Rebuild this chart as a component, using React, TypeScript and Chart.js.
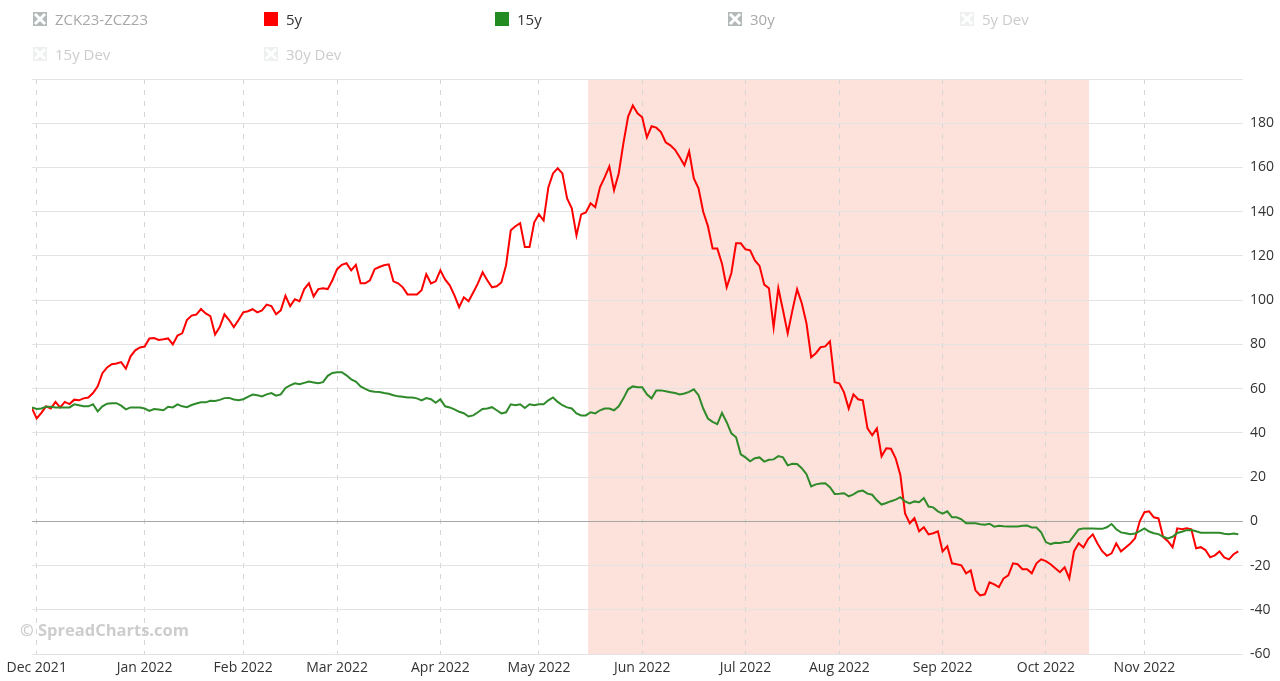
import React, { useEffect, useRef } from "react";
import { Chart, registerables } from "chart.js";

Chart.register(...registerables);

// ---- Data (trading-day series) ----
const red5y = [
  51, 46.5, 49, 52, 51, 54, 51.5, 54, 53,
  55, 54.7, 55.6, 56, 58, 61, 67, 69.6, 71, 71.4,
  72, 69, 74.6, 77.3, 78.6, 79, 82.7, 82.9, 82, 82.3,
  82.7, 80, 84, 85, 91, 93, 93.5, 96, 94, 92.8,
  84.5, 87.8, 93.6, 91, 87.8, 91, 94.5, 95, 95.9, 94.5,
  95.4, 98, 97.3, 93.6, 95.4, 102, 97.3, 100.4, 99.5, 105,
  107.6, 101.7, 105, 105.4, 105, 109, 114, 116, 116.7, 113.5,
  116, 107.6, 107.6, 109, 114, 115, 115.8, 116.2, 108.5, 107.6,
  105.8, 102.6, 102.6, 102.6, 104.5, 111.7, 107.6, 108.5, 113.5, 109.4,
  106.7, 102.2, 96.8, 101.3, 99.5, 103.5, 107.6, 112.6, 109,
  105.8, 106.3, 108, 115.8, 131.6, 133.4, 134.8, 124, 124, 135.2,
  138.8, 136, 151, 157.3, 159.6, 157.3, 146, 141.5, 129.3, 138.8,
  139.7, 143.8, 142, 151, 155.5, 160.5, 149.7, 157.3, 171, 183,
  188, 184.5, 182.7, 173.6, 178.6, 178, 176, 171.4, 170, 168,
  164.6, 161, 167.3, 155, 150.6, 140, 133.5, 123.4, 123.4, 116.5,
  105.8, 112.3, 125.7, 125.7, 123, 122.5, 118, 115.5, 107, 105.4,
  87.7, 105.4, 95.4, 85, 95.4, 104.9, 98.6, 89.5, 74.2, 76,
  78.7, 79.1, 81.4, 62.9, 62.4, 58.3, 51, 57.4, 55.2, 54.7,
  42, 38.9, 42, 29.4, 33, 32.8, 28.5, 21, 3.6, -0.9,
  1.4, -4.5, -2.7, -5.9, -5.4, -4.5, -13.6, -11.3, -19, -19.4,
  -19.9, -23.5, -22.2, -31.2, -33.5, -33, -27.6, -28.5, -29.8, -25.8,
  -24.4, -19, -19.4, -21.7, -21.7, -23.5, -19, -17.2, -18, -19.4,
  -21.2, -23, -20.8, -25.8, -13.5, -9.9, -11.8, -8, -5.9, -10,
  -13.5, -15.6, -14.5, -10, -13.6, -11.8, -10, -7.7, 0, 4.1,
  4.5, 1.8, 1.3, -7.2, -9, -11.7, -3.2, -3.6, -3.2, -3.6,
  -12.2, -11.7, -13, -16.3, -15.4, -13.6, -16.3, -17.2, -14.9, -13.6,
];

const green15y = [
  51.5, 50.8, 51, 51.8, 51.8, 51.5, 51.5, 51.5, 51.5,
  52.9, 52.5, 52, 52, 52.9, 49.7, 52, 53.2, 53.4, 53.4,
  52.3, 50.6, 51.5, 51.5, 51.5, 51, 49.9, 50.8, 50.6, 50.2,
  51.8, 51.5, 52.9, 52, 51.6, 52.6, 53.3, 53.8, 53.8, 54.5,
  54.4, 54.9, 55.7, 55.8, 55.1, 54.7, 55.2, 56.3, 57.3, 57,
  56.5, 57.4, 58, 56.8, 57.4, 60.3, 61.5, 62.4, 62, 62.6,
  63.2, 62.8, 62.4, 62.9, 65.8, 67.1, 67.4, 67.4, 66, 64.2,
  63.2, 61, 59.9, 58.9, 58.6, 58.5, 58, 57.7, 57, 56.5,
  56.3, 56, 56, 55.6, 54.7, 55.7, 55.2, 53.6, 55.2, 52,
  51.5, 50.6, 49.5, 48.9, 47.4, 47.9, 49.3, 50.8, 51,
  51.6, 50.2, 48.8, 49.3, 52.9, 52.5, 52.9, 51.2, 52.9, 52.5,
  52.9, 52.9, 54.7, 56, 54, 52.5, 51.5, 51, 48.8, 47.9,
  47.9, 49.3, 48.8, 50.2, 51, 51, 50.2, 52, 55.6, 59.7,
  61, 60.6, 60.6, 57.4, 55.6, 59.2, 59.2, 58.8, 58.4, 58,
  57.4, 57.8, 58.5, 59.7, 57, 51, 46.5, 45, 43.9, 49,
  44.8, 39.8, 38, 30.3, 28.9, 27.1, 28.5, 28.9, 27, 27.8,
  28, 29.5, 28.9, 25.3, 26, 25.9, 24, 21.3, 15.8, 16.7,
  17.1, 17.2, 15.4, 12.4, 12.5, 12.7, 11.3, 12.2, 13.5, 13.9,
  12.5, 12, 9.5, 7.6, 8.3, 9.1, 9.8, 10.9, 9, 8.1,
  9, 8.6, 10.5, 6.7, 6.3, 4.5, 3.5, 4.5, 1.8, 1.8,
  0.9, -0.9, -0.9, -0.9, -1.3, -1.6, -1.1, -2.4, -2, -2.2,
  -2.3, -2.3, -2.3, -2, -1.9, -2.8, -2.8, -5, -9.4, -10.3,
  -9.7, -9.8, -9.4, -9.3, -6.5, -3.7, -3.2, -3.2, -3.3, -3.4,
  -3.4, -2.7, -1.2, -3.6, -5, -5.4, -5.8, -5.5, -4.4, -3.2,
  -4.6, -5.4, -5.8, -7, -7.7, -7, -5.3, -4.7, -4, -3.9,
  -4.5, -5.2, -5.2, -5.2, -5.2, -5.2, -5.6, -5.8, -5.5, -5.9,
];

const monthTickIdx = [1, 24, 45, 65, 87, 108, 130, 152, 172, 194, 216, 237];
const monthLabels = [
  "Dec 2021", "Jan 2022", "Feb 2022", "Mar 2022", "Apr 2022", "May 2022",
  "Jun 2022", "Jul 2022", "Aug 2022", "Sep 2022", "Oct 2022", "Nov 2022",
];

const shadeFrom = 118.5;
const shadeTo = 225.2;

const yMin = -60;
const yMax = 200;
const yStep = 20;

const legendLabels = ["ZCK23-ZCZ23", "5y", "15y", "30y", "5y Dev", "15y Dev", "30y Dev"];
const legendStates = ["hidden", "red", "green", "hidden", "off", "off", "off"];

const RED = "#ff0000";
const GREEN = "#228b22";
const LINE_GREEN = "#2f8a2a";
const FONT = "'Open Sans', 'DejaVu Sans', sans-serif";

const shadePlugin = {
  id: "shadeBand",
  beforeDraw(chart: any) {
    const { ctx, chartArea, scales } = chart;
    const x1 = scales.x.getPixelForValue(shadeFrom);
    const x2 = scales.x.getPixelForValue(shadeTo);
    ctx.save();
    ctx.fillStyle = "#fde1db";
    ctx.fillRect(x1, chartArea.top, x2 - x1, chartArea.bottom - chartArea.top);
    ctx.restore();
  },
};

function LegendIcon({ state }: { state: string }) {
  if (state === "red" || state === "green") {
    return (
      <svg width={14} height={14} style={{ display: "block", flex: "none" }}>
        <rect x={0} y={0} width={14} height={14} fill={state === "red" ? RED : GREEN} />
      </svg>
    );
  }
  const bg = state === "hidden" ? "#b3b9b9" : "#eef0f0";
  return (
    <svg width={14} height={14} style={{ display: "block", flex: "none" }}>
      <rect x={0} y={0} width={14} height={14} fill={bg} />
      <path d="M3 3 L11 11 M11 3 L3 11" stroke="#ffffff" strokeWidth={3} strokeLinecap="square" />
    </svg>
  );
}

function Legend() {
  const colX = [33, 264, 495, 728, 960];
  const rowY = [12, 47];
  return (
    <>
      {legendLabels.map((label, i) => {
        const col = i < 5 ? i : i - 5;
        const row = i < 5 ? 0 : 1;
        const state = legendStates[i];
        const color = state === "hidden" ? "#a8a8a8" : state === "off" ? "#cccccc" : "#333333";
        return (
          <div
            key={label}
            style={{
              position: "absolute",
              left: colX[col],
              top: rowY[row],
              height: 14,
              display: "flex",
              alignItems: "center",
              whiteSpace: "nowrap",
            }}
          >
            <LegendIcon state={state} />
            <span style={{ marginLeft: 8, fontFamily: FONT, fontSize: 15, color, lineHeight: "14px" }}>
              {label}
            </span>
          </div>
        );
      })}
    </>
  );
}

export default function App() {
  const canvasRef = useRef<HTMLCanvasElement | null>(null);

  useEffect(() => {
    const canvas = canvasRef.current;
    if (!canvas) return;
    const dayIndex = red5y.map((_, i) => i);
    const chart = new Chart(canvas, {
      type: "line",
      data: {
        labels: dayIndex,
        datasets: [
          {
            label: "15y",
            data: green15y,
            borderColor: LINE_GREEN,
            borderWidth: 2,
            pointRadius: 0,
            tension: 0,
            fill: false,
          },
          {
            label: "5y",
            data: red5y,
            borderColor: RED,
            borderWidth: 2,
            pointRadius: 0,
            tension: 0,
            fill: false,
          },
        ],
      },
      options: {
        responsive: false,
        animation: false,
        devicePixelRatio: 1,
        layout: { padding: { top: 79, left: 32, right: 0, bottom: 0 } },
        plugins: {
          legend: { display: false },
          tooltip: { enabled: false },
        },
        scales: {
          x: {
            type: "linear",
            min: 0,
            max: red5y.length,
            afterBuildTicks: (scale: any) => {
              scale.ticks = monthTickIdx.map((v) => ({ value: v }));
            },
            afterFit: (scale: any) => {
              scale.height = 27;
            },
            ticks: {
              autoSkip: false,
              maxRotation: 0,
              padding: 6,
              color: "#333333",
              font: { family: FONT, size: 14 },
              callback: (_v: any, i: number) => monthLabels[i],
            },
            grid: {
              color: "#d6d6d6",
              lineWidth: 1,
              drawTicks: false,
            },
            border: { display: false, dash: [5, 6] },
          },
          y: {
            position: "right",
            min: yMin,
            max: yMax,
            afterFit: (scale: any) => {
              scale.width = 37;
            },
            ticks: {
              stepSize: yStep,
              padding: 7,
              color: "#333333",
              font: { family: FONT, size: 14 },
              callback: (v: any) => (v === yMax ? "" : String(v)),
            },
            grid: {
              color: (c: any) => (c.tick && c.tick.value === 0 ? "#a6a6a6" : "#e3e3e3"),
              lineWidth: 1,
              drawTicks: false,
            },
            border: { display: false },
          },
        },
      },
      plugins: [shadePlugin],
    });
    return () => chart.destroy();
  }, []);

  return (
    <div style={{ position: "absolute", left: 0, top: 0, width: 1280, height: 681, background: "#fff", overflow: "hidden" }}>
      <canvas ref={canvasRef} width={1280} height={681} style={{ position: "absolute", left: 0, top: 0, width: 1280, height: 681 }} />
      <Legend />
      <div
        style={{
          position: "absolute",
          left: 20,
          top: 618,
          fontFamily: FONT,
          fontWeight: 700,
          fontSize: 16.5,
          color: "#cdcdcd",
          whiteSpace: "nowrap",
          pointerEvents: "none",
        }}
      >
        © SpreadCharts.com
      </div>
    </div>
  );
}
